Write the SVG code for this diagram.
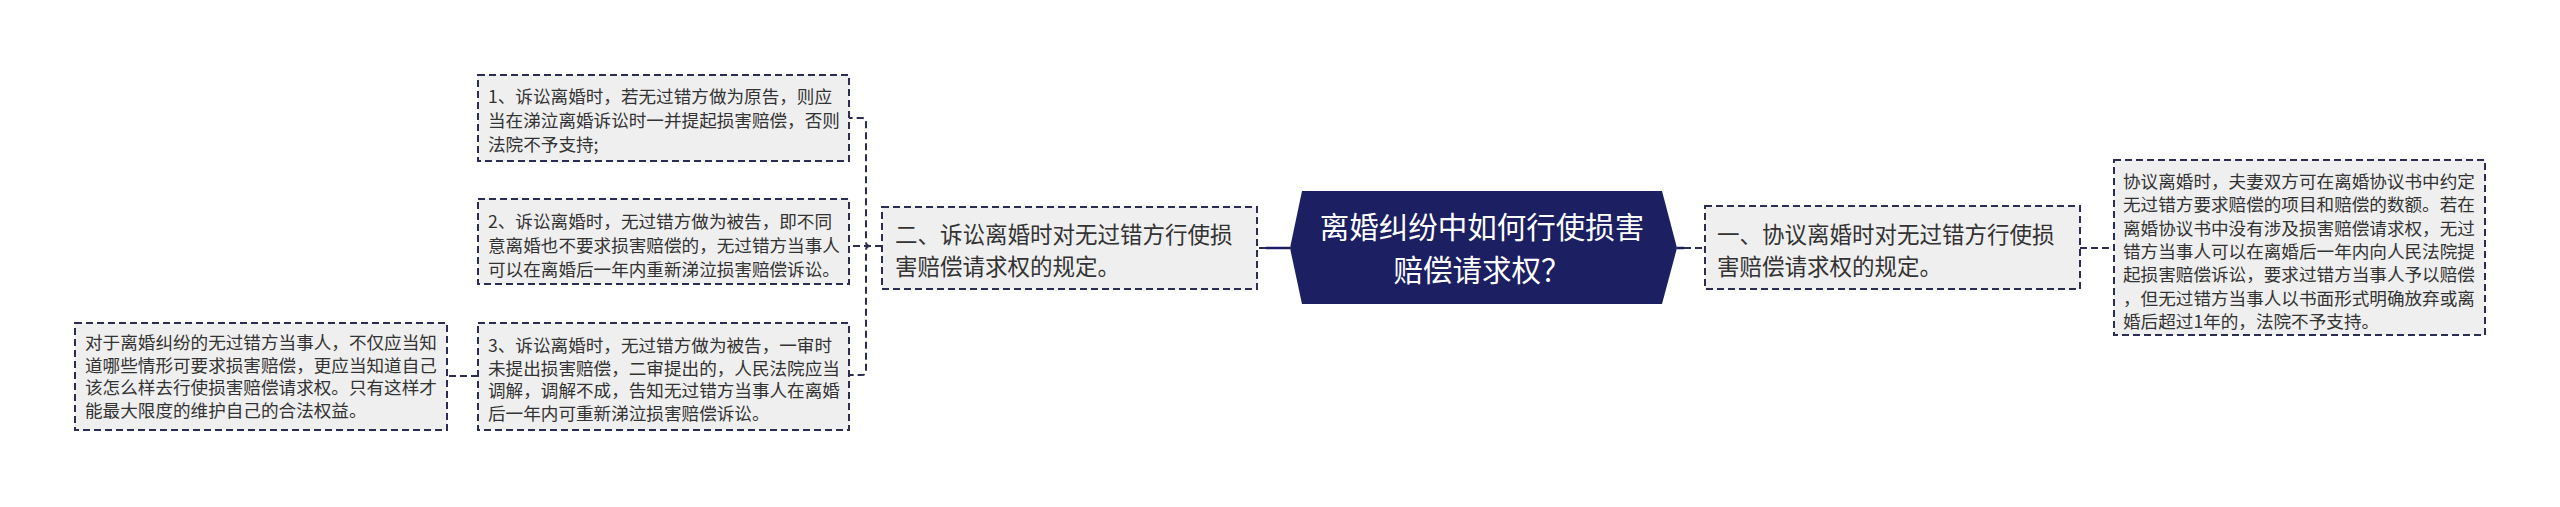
<svg xmlns="http://www.w3.org/2000/svg" width="2560" height="507" viewBox="0 0 2560 507">
<style>
.box{fill:#efefef;stroke:#2b2d52;stroke-width:2;stroke-dasharray:7 4}
.conn{fill:none;stroke:#2b2d52;stroke-width:2;stroke-dasharray:7 4}
.solid{fill:none;stroke:#1c2063;stroke-width:2.5}
.t{font-family:"Noto Sans CJK SC","Noto Sans",sans-serif;fill:#333333}
.s{font-size:17.6px}
.m{font-size:22.5px}
.c{font-family:"Noto Sans CJK SC","Noto Sans",sans-serif;fill:#ffffff;font-size:29.5px;text-anchor:middle}
</style>
<rect width="2560" height="507" fill="#ffffff"/>
<g id="connectors">
<path class="solid" d="M1290,248 H1266"/>
<path class="conn" d="M1266,248 H1257"/>
<path class="conn" d="M882,246 H870 Q866,246 866,242 V122 Q866,118 862,118 H849"/>
<path class="conn" d="M882,246 H849"/>
<path class="conn" d="M882,246 H870 Q866,246 866,250 V371 Q866,375 862,375 H849"/>
<path class="conn" d="M478,376 H447"/>
<path class="solid" d="M1677,248 H1684"/>
<path class="conn" d="M1684,248 H1705"/>
<path class="conn" d="M2080,248 H2114"/>
</g>
<g id="center">
<polygon points="1290,248 1302,191 1662,191 1677,248 1662,304 1302,304" fill="#1c2063"/>
<text class="c" x="1482" y="238">离婚纠纷中如何行使损害</text>
<text class="c" x="1482" y="281">赔偿请求权？</text>
</g>
<g id="left-main">
<rect class="box" x="882" y="207" width="375" height="82"/>
<text class="t m" x="895" y="243">二、诉讼离婚时对无过错方行使损</text>
<text class="t m" x="895" y="275">害赔偿请求权的规定。</text>
</g>
<g id="left-1">
<rect class="box" x="478" y="75" width="371" height="86"/>
<text class="t s" x="488" y="103">1、诉讼离婚时，若无过错方做为原告，则应</text>
<text class="t s" x="488" y="127">当在涕泣离婚诉讼时一并提起损害赔偿，否则</text>
<text class="t s" x="488" y="151">法院不予支持;</text>
</g>
<g id="left-2">
<rect class="box" x="478" y="199" width="371" height="85"/>
<text class="t s" x="488" y="228">2、诉讼离婚时，无过错方做为被告，即不同</text>
<text class="t s" x="488" y="252">意离婚也不要求损害赔偿的，无过错方当事人</text>
<text class="t s" x="488" y="276">可以在离婚后一年内重新涕泣损害赔偿诉讼。</text>
</g>
<g id="left-3">
<rect class="box" x="478" y="323" width="371" height="107"/>
<text class="t s" x="488" y="352">3、诉讼离婚时，无过错方做为被告，一审时</text>
<text class="t s" x="488" y="374.5">未提出损害赔偿，二审提出的，人民法院应当</text>
<text class="t s" x="488" y="397">调解，调解不成，告知无过错方当事人在离婚</text>
<text class="t s" x="488" y="419.5">后一年内可重新涕泣损害赔偿诉讼。</text>
</g>
<g id="far-left">
<rect class="box" x="75" y="323" width="372" height="107"/>
<text class="t s" x="85" y="349">对于离婚纠纷的无过错方当事人，不仅应当知</text>
<text class="t s" x="85" y="371.5">道哪些情形可要求损害赔偿，更应当知道自己</text>
<text class="t s" x="85" y="394">该怎么样去行使损害赔偿请求权。只有这样才</text>
<text class="t s" x="85" y="416.5">能最大限度的维护自己的合法权益。</text>
</g>
<g id="right-main">
<rect class="box" x="1705" y="206" width="375" height="83"/>
<text class="t m" x="1717" y="243">一、协议离婚时对无过错方行使损</text>
<text class="t m" x="1717" y="275">害赔偿请求权的规定。</text>
</g>
<g id="far-right">
<rect class="box" x="2114" y="160" width="371" height="175"/>
<text class="t s" x="2123" y="188">协议离婚时，夫妻双方可在离婚协议书中约定</text>
<text class="t s" x="2123" y="211.3">无过错方要求赔偿的项目和赔偿的数额。若在</text>
<text class="t s" x="2123" y="234.6">离婚协议书中没有涉及损害赔偿请求权，无过</text>
<text class="t s" x="2123" y="257.9">错方当事人可以在离婚后一年内向人民法院提</text>
<text class="t s" x="2123" y="281.2">起损害赔偿诉讼，要求过错方当事人予以赔偿</text>
<text class="t s" x="2123" y="304.5">，但无过错方当事人以书面形式明确放弃或离</text>
<text class="t s" x="2123" y="327.8">婚后超过1年的，法院不予支持。</text>
</g>
</svg>
